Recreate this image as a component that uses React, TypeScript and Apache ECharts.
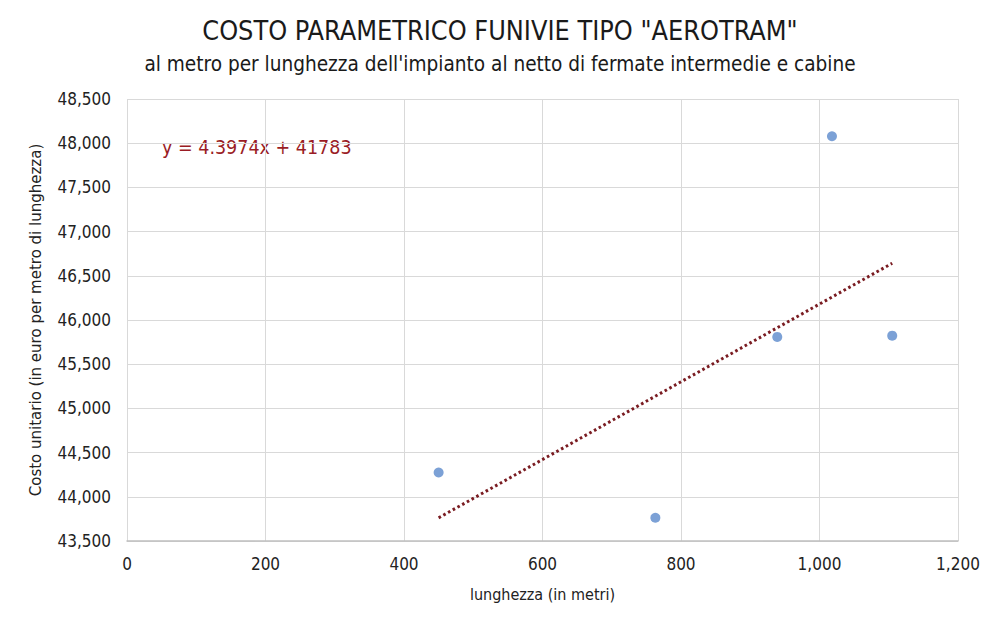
import React, { useEffect, useRef } from "react";
import * as echarts from "echarts";

const lengths = [450, 763, 939, 1018, 1105];
const costs = [44275, 43763, 45809, 48079, 45823];
const trendX = [450, 1105];
const trendY = [43762, 46642];
const xTicks = [0, 200, 400, 600, 800, 1000, 1200];
const yRange = [43500, 48500];

const titleText = 'COSTO PARAMETRICO FUNIVIE TIPO "AEROTRAM"';
const subtitleText = "al metro per lunghezza dell'impianto al netto di fermate intermedie e cabine";
const equationText = "y = 4.3974x + 41783";
const xName = "lunghezza (in metri)";
const yName = "Costo unitario (in euro per metro di lunghezza)";

const NARROW = '"Liberation Sans Narrow", "DejaVu Sans Condensed", "Roboto", sans-serif';

export default function App() {
  const ref = useRef<HTMLDivElement>(null);
  useEffect(() => {
    if (!ref.current) return;
    const chart = echarts.init(ref.current, undefined, { renderer: "svg" });
    const fmt = (v: number) => v.toLocaleString("en-US");
    chart.setOption({
      animation: false,
      backgroundColor: "#ffffff",
      title: [
        {
          text: titleText,
          left: "center",
          top: 12,
          textStyle: { fontFamily: NARROW, fontSize: 26.8, fontWeight: "normal", color: "#1a1a1a" },
        },
        {
          text: subtitleText,
          left: "center",
          top: 48,
          textStyle: { fontFamily: NARROW, fontSize: 20.6, fontWeight: "normal", color: "#1a1a1a" },
        },
      ],
      grid: { left: 127, right: 42, top: 99, bottom: 86 },
      xAxis: {
        type: "value",
        min: xTicks[0],
        max: xTicks[xTicks.length - 1],
        interval: 200,
        name: xName,
        nameLocation: "middle",
        nameGap: 45,
        nameTextStyle: { fontFamily: NARROW, fontSize: 16, color: "#222" },
        axisLine: { show: true, lineStyle: { color: "#bfbfbf", width: 1.5 } },
        axisTick: { show: false },
        axisLabel: { formatter: fmt, fontFamily: NARROW, fontSize: 17, color: "#222", margin: 14 },
        splitLine: { show: true, lineStyle: { color: "#d9d9d9", width: 1 } },
      },
      yAxis: {
        type: "value",
        min: yRange[0],
        max: yRange[1],
        interval: 500,
        name: yName,
        nameLocation: "middle",
        nameGap: 84,
        nameRotate: 90,
        nameTextStyle: { fontFamily: '"DejaVu Sans", sans-serif', fontSize: 15, color: "#222" },
        axisLine: { show: false },
        axisTick: { show: false },
        axisLabel: { formatter: fmt, fontFamily: NARROW, fontSize: 17, color: "#222", margin: 16 },
        splitLine: { show: true, lineStyle: { color: "#d9d9d9", width: 1 } },
      },
      graphic: [
        {
          type: "text",
          left: 162,
          top: 137,
          style: { text: equationText, fontFamily: NARROW, fontSize: 19.5, fill: "#9a1c24" },
        },
      ],
      series: [
        {
          type: "line",
          data: trendX.map((x, i) => [x, trendY[i]]),
          showSymbol: false,
          symbol: "none",
          lineStyle: { color: "#7a1c22", width: 3, type: [2.6, 2.8] },
          z: 2,
        },
        {
          type: "scatter",
          data: lengths.map((x, i) => [x, costs[i]]),
          symbolSize: 10,
          itemStyle: { color: "#5b89cc" },
          z: 3,
        },
      ],
    });
    return () => chart.dispose();
  }, []);
  return <div ref={ref} style={{ position: "fixed", left: 0, top: 0, width: 1000, height: 627 }} />;
}
